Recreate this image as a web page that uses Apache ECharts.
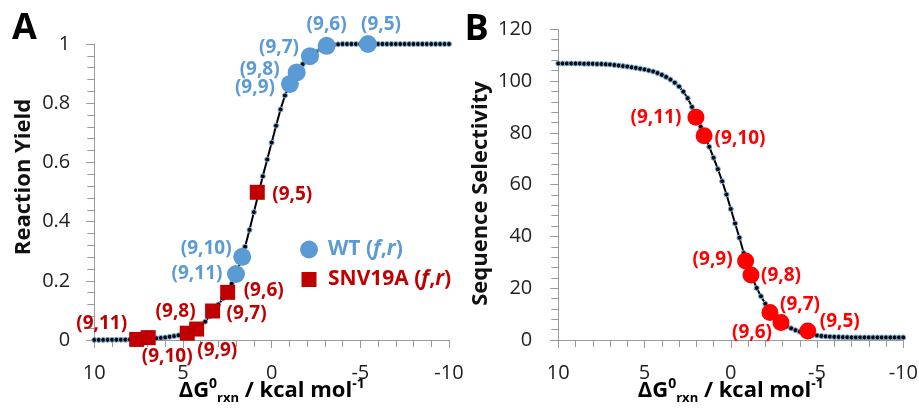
<!DOCTYPE html>
<html><head><meta charset="utf-8">
<script src="https://cdn.jsdelivr.net/npm/echarts@6/dist/echarts.min.js"></script>
<style>html,body{margin:0;padding:0;background:#fff}#c{width:919px;height:409px}</style>
</head><body><div id="c"></div>
<script>
// ---------------- DATA ----------------
const dG = [10,9.75,9.5,9.25,9,8.75,8.5,8.25,8,7.75,7.5,7.25,7,6.75,6.5,6.25,6,5.75,5.5,5.25,5,4.75,4.5,4.25,4,3.75,3.5,3.25,3,2.75,2.5,2.25,2,1.75,1.5,1.25,1,0.75,0.5,0.25,0,-0.25,-0.5,-0.75,-1,-1.25,-1.5,-1.75,-2,-2.25,-2.5,-2.75,-3,-3.25,-3.5,-3.75,-4,-4.25,-4.5,-4.75,-5,-5.25,-5.5,-5.75,-6,-6.25,-6.5,-6.75,-7,-7.25,-7.5,-7.75,-8,-8.25,-8.5,-8.75,-9,-9.25,-9.5,-9.75,-10];
const yieldCurve = [0.0003,0.0003,0.0004,0.0005,0.0006,0.0007,0.0009,0.0011,0.0014,0.0018,0.0023,0.0029,0.0037,0.0046,0.0057,0.0071,0.0088,0.0108,0.0132,0.016,0.0193,0.023,0.029,0.037,0.048,0.062,0.080,0.100,0.120,0.140,0.160,0.190,0.225,0.265,0.315,0.372,0.432,0.493,0.553,0.610,0.667,0.724,0.779,0.826,0.862,0.889,0.912,0.932,0.950,0.963,0.974,0.983,0.990,0.995,0.998,0.999,1,1,1,1,1,1,1,1,1,1,1,1,1,1,1,1,1,1,1,1,1,1,1,1,1];
const selCurve = [106.8,106.8,106.8,106.8,106.8,106.8,106.7,106.7,106.7,106.6,106.6,106.5,106.4,106.2,106.0,105.8,105.6,105.3,105.1,104.8,104.5,104.1,103.7,103.1,102.4,101.6,100.6,99.4,97.9,95.9,93.4,90.0,86.0,82.4,78.6,74.6,70.4,66.0,61.3,56.2,50.6,45.0,39.5,33.6,28.4,23.9,20.1,16.9,14.0,11.4,9.3,7.6,6.3,5.3,4.5,3.8,3.2,2.7,2.3,2.0,1.75,1.55,1.4,1.3,1.2,1.15,1.1,1.05,1.0,1.0,1.0,1.0,1.0,1.0,1.0,1.0,1.0,1.0,1.0,1.0,1.0];

const wtNames = ['(9,5)','(9,6)','(9,7)','(9,8)','(9,9)','(9,10)','(9,11)'];
const wtDG    = [-5.43,-3.10,-2.16,-1.41,-1.03,1.66,2.01];
const wtYield = [1.0,0.994,0.959,0.904,0.865,0.281,0.223];

const snvNames = ['(9,5)','(9,6)','(9,7)','(9,8)','(9,9)','(9,10)','(9,11)'];
const snvDG    = [0.81,2.48,3.33,4.23,4.76,6.96,7.61];
const snvYield = [0.499,0.161,0.098,0.037,0.023,0.008,0.002];

const selNames = ['(9,5)','(9,6)','(9,7)','(9,8)','(9,9)','(9,10)','(9,11)'];
const selDG    = [-4.46,-2.91,-2.27,-1.17,-0.86,1.55,2.02];
const selVals  = [3.5,6.8,10.6,25.1,30.5,78.9,86.0];

const xTicks  = [10,5,0,-5,-10];
const yTicksA = [0,0.2,0.4,0.6,0.8,1];
const yTicksB = [0,20,40,60,80,100,120];

// ---------------- LAYOUT / STYLE ----------------
const FONT = 'Open Sans';
const BLUE = '#5B9BD5', DKRED = '#C00000', RED = '#FF0000';
const wtOff  = [[13,-19],[0,-21],[-31,-9],[-37,-3],[-35,4],[-36,-8],[-39,0]];
const snvOff = [[35,2],[36,-2],[34,3],[-21,-17],[30,17],[19,19],[-35,-16]];
const selOff = [[32,-9],[-29,10],[30,-8],[30,1],[-33,-1],[36,3],[-40,0]];

function tickFmt(list){ return v => { const t = list.find(x => Math.abs(x - v) < 1e-6); return t === undefined ? '' : String(t); }; }
function pts(xs, ys, offs){ return xs.map((x,i)=>({value:[x, ys[i]], label:{offset: offs[i]}})); }

const axisGray = '#9a9a9a';
function xAxis(gi){
  return {type:'value', gridIndex:gi, min:-10, max:10, interval:5, inverse:true,
    axisLine:{show:true, onZero:false, lineStyle:{color:axisGray, width:1}},
    axisTick:{show:true, length:8, lineStyle:{color:axisGray}},
    minorTick:{show:true, splitNumber:5, length:7, lineStyle:{color:axisGray}},
    splitLine:{show:false},
    axisLabel:{margin:23, color:'#222', fontFamily:FONT, fontSize:20, formatter: tickFmt(xTicks)}};
}
function yAxis(gi, max, interval, ticks, margin){
  return {type:'value', gridIndex:gi, min:0, max:max, interval:interval,
    axisLine:{show:true, onZero:false, lineStyle:{color:axisGray, width:1}},
    axisTick:{show:true, length:8, lineStyle:{color:axisGray}},
    minorTick:{show:true, splitNumber:5, length:7, lineStyle:{color:axisGray}},
    splitLine:{show:false},
    axisLabel:{margin:margin, color:'#222', fontFamily:FONT, fontSize:20, formatter: tickFmt(ticks)}};
}
function curve(gi, ys){
  return {type:'line', xAxisIndex:gi, yAxisIndex:gi, data: dG.map((x,i)=>[x, ys[i]]),
    symbol:'circle', symbolSize:5, showSymbol:true, silent:true, z:2,
    lineStyle:{color:'#000', width:2}, itemStyle:{color:'#0a0a0a', borderColor:'#7fb0e0', borderWidth:1}};
}
function labelStyle(color, names){
  return {show:true, position:'inside', color:color, fontFamily:FONT, fontWeight:'bold', fontSize:19,
    formatter: p => names[p.dataIndex]};
}

const titleRich = {
  m:{fontFamily:FONT, fontWeight:'bold', fontSize:22, lineHeight:28, verticalAlign:'middle', color:'#111'},
  p:{fontFamily:FONT, fontWeight:'bold', fontSize:14, lineHeight:16, verticalAlign:'top', color:'#111'},
  s:{fontFamily:FONT, fontWeight:'bold', fontSize:13, lineHeight:19, verticalAlign:'bottom', color:'#111'}
};
const xTitle = '{m|ΔG}{p|0}{s|rxn}{m| / kcal mol}{p|-1}';

const option = {
  animation:false,
  backgroundColor:'#fff',
  grid:[
    {left:94.3, top:44, width:354.7, height:296, containLabel:false, outerBoundsMode:'none'},
    {left:558.3, top:29.3, width:345, height:310.7, containLabel:false, outerBoundsMode:'none'}
  ],
  xAxis:[xAxis(0), xAxis(1)],
  yAxis:[yAxis(0, 1, 0.2, yTicksA, 24), yAxis(1, 120, 20, yTicksB, 26)],
  legend:[
    {data:[{name:'WT', icon:'circle'}], selectedMode:false, orient:'vertical', left:300, top:239, padding:0,
     itemWidth:18, itemHeight:18,
     formatter: () => '{sp|}{b|WT (}{i|f}{b|,}{i|r}{b|)}',
     textStyle:{rich:{sp:{width:5}, b:{color:BLUE, fontFamily:FONT, fontWeight:'bold', fontSize:21},
                      i:{color:BLUE, fontFamily:FONT, fontWeight:'bold', fontStyle:'italic', fontSize:21}}}},
    {data:[{name:'SNV19A', icon:'rect'}], selectedMode:false, orient:'vertical', left:301.5, top:269, padding:0,
     itemWidth:15, itemHeight:15,
     formatter: () => '{sp|}{b|SNV19A (}{i|f}{b|,}{i|r}{b|)}',
     textStyle:{rich:{sp:{width:6.5}, b:{color:DKRED, fontFamily:FONT, fontWeight:'bold', fontSize:21},
                      i:{color:DKRED, fontFamily:FONT, fontWeight:'bold', fontStyle:'italic', fontSize:21}}}}
  ],
  series:[
    curve(0, yieldCurve),
    {name:'WT', type:'scatter', xAxisIndex:0, yAxisIndex:0, symbol:'circle', symbolSize:18, z:4,
     itemStyle:{color:BLUE, opacity:1}, label: labelStyle(BLUE, wtNames), data: pts(wtDG, wtYield, wtOff)},
    {name:'SNV19A', type:'scatter', xAxisIndex:0, yAxisIndex:0, symbol:'rect', symbolSize:15, z:3,
     itemStyle:{color:DKRED, opacity:1}, label: labelStyle(DKRED, snvNames), data: pts(snvDG, snvYield, snvOff)},
    curve(1, selCurve),
    {name:'Selectivity', type:'scatter', xAxisIndex:1, yAxisIndex:1, symbol:'circle', symbolSize:17, z:4,
     itemStyle:{color:RED, opacity:1}, label: labelStyle(RED, selNames), data: pts(selDG, selVals, selOff)}
  ],
  graphic:[
    {type:'text', x:24.5, y:29, style:{text:'A', fontFamily:FONT, fontWeight:'bold', fontSize:36, fill:'#000', align:'center', verticalAlign:'middle'}},
    {type:'text', x:476.5, y:30, style:{text:'B', fontFamily:FONT, fontWeight:'bold', fontSize:36, fill:'#000', align:'center', verticalAlign:'middle'}},
    {type:'text', x:24, y:177, rotation:Math.PI/2, style:{text:'Reaction Yield', fontFamily:FONT, fontWeight:'bold', fontSize:22, fill:'#111', align:'center', verticalAlign:'middle'}},
    {type:'text', x:481, y:193.5, rotation:Math.PI/2, style:{text:'Sequence Selectivity', fontFamily:FONT, fontWeight:'bold', fontSize:22, fill:'#111', align:'center', verticalAlign:'middle'}},
    {type:'text', x:271.7, y:391, style:{text:xTitle, rich:titleRich, align:'center', verticalAlign:'middle'}},
    {type:'text', x:730.8, y:391, style:{text:xTitle, rich:titleRich, align:'center', verticalAlign:'middle'}}
  ]
};
const chart = echarts.init(document.getElementById('c'), null, {renderer:'canvas'});
chart.setOption(option);
</script></body></html>
